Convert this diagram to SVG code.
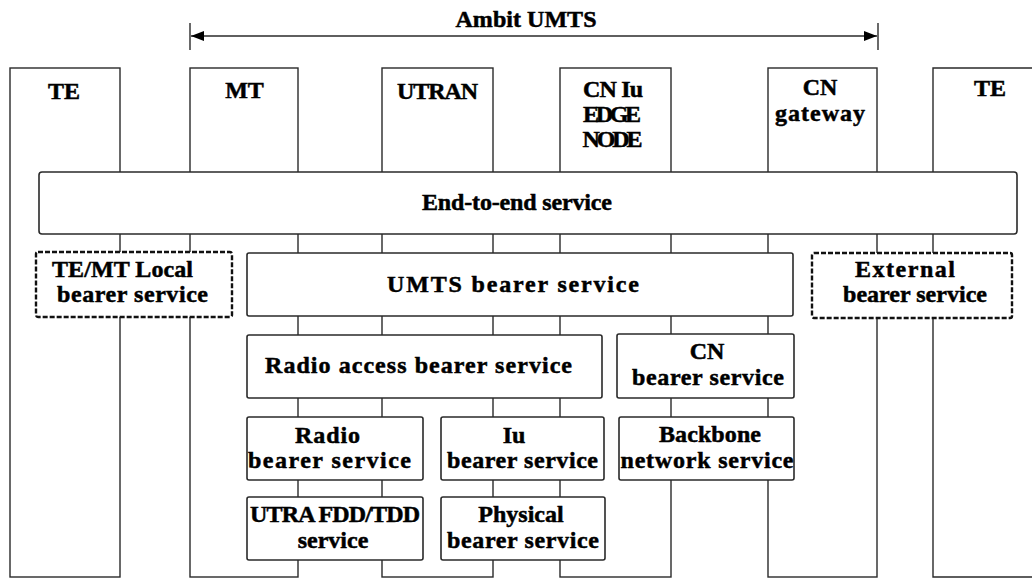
<svg xmlns="http://www.w3.org/2000/svg" width="1032" height="578" viewBox="0 0 1032 578">
<style>
  .col { fill: none; stroke: #2a2a2a; stroke-width: 1.4; }
  .box { fill: #ffffff; stroke: #2a2a2a; stroke-width: 1.6; }
  .dash { fill: #ffffff; stroke: #111111; stroke-width: 2.4; stroke-dasharray: 5 2; }
  .lbl { font-family: "Liberation Serif", "Times New Roman", serif; font-weight: bold; font-size: 24px; fill: #000000; stroke: #000000; stroke-width: 0.5; text-anchor: middle; }
  .conn { stroke: #2a2a2a; stroke-width: 1.4; fill: none; }
  .head { fill: #000000; }
</style>
<rect x="0" y="0" width="1032" height="578" fill="#ffffff"/>

<g id="connectors">
  <line class="conn" x1="191" y1="36" x2="877" y2="36"/>
  <line class="conn" x1="190" y1="23" x2="190" y2="50"/>
  <line class="conn" x1="878" y1="23" x2="878" y2="50"/>
  <polygon class="head" points="191,36 204,31 204,41"/>
  <polygon class="head" points="877,36 864,31 864,41"/>
  <text class="lbl" x="526" y="27" textLength="141" lengthAdjust="spacing">Ambit UMTS</text>
</g>

<g id="col-te-left">
  <rect class="col" x="10" y="68" width="110" height="509"/>
  <text class="lbl" x="64" y="99">TE</text>
</g>
<g id="col-mt">
  <rect class="col" x="190" y="68" width="108" height="509"/>
  <text class="lbl" x="244.5" y="98">MT</text>
</g>
<g id="col-utran">
  <rect class="col" x="382" y="68" width="111" height="509"/>
  <text class="lbl" x="437.5" y="99" textLength="81" lengthAdjust="spacing">UTRAN</text>
</g>
<g id="col-cn-edge">
  <rect class="col" x="560" y="68" width="111" height="509"/>
  <text class="lbl" x="613" y="97" textLength="60" lengthAdjust="spacing">CN Iu</text>
  <text class="lbl" x="612" y="122" textLength="58" lengthAdjust="spacing">EDGE</text>
  <text class="lbl" x="612.5" y="147" textLength="60" lengthAdjust="spacing">NODE</text>
</g>
<g id="col-cn-gateway">
  <rect class="col" x="768" y="68" width="109" height="509"/>
  <text class="lbl" x="820" y="95">CN</text>
  <text class="lbl" x="820" y="121" textLength="90" lengthAdjust="spacing">gateway</text>
</g>
<g id="col-te-right">
  <path class="col" d="M1040,68 L933,68 L933,577 L1040,577"/>
  <text class="lbl" x="990" y="96">TE</text>
</g>

<g id="end-to-end">
  <rect class="box" x="39" y="172" width="978" height="62" rx="3"/>
  <text class="lbl" x="517" y="210" textLength="190" lengthAdjust="spacing">End-to-end service</text>
</g>

<g id="te-mt-local">
  <rect class="dash" x="36" y="252" width="196" height="65" rx="2"/>
  <text class="lbl" x="122.5" y="277" textLength="141" lengthAdjust="spacing">TE/MT  Local</text>
  <text class="lbl" x="132.5" y="302" textLength="151" lengthAdjust="spacing">bearer service</text>
</g>

<g id="umts-bearer">
  <rect class="box" x="247" y="253" width="546" height="63" rx="2"/>
  <text class="lbl" x="513" y="292" textLength="252" lengthAdjust="spacing">UMTS bearer service</text>
</g>

<g id="external-bearer">
  <rect class="dash" x="812" y="253" width="200" height="65" rx="2"/>
  <text class="lbl" x="905" y="277" textLength="100" lengthAdjust="spacing">External</text>
  <text class="lbl" x="915" y="302" textLength="144" lengthAdjust="spacing">bearer service</text>
</g>

<g id="radio-access-bearer">
  <rect class="box" x="247" y="335" width="355" height="63" rx="2"/>
  <text class="lbl" x="418.5" y="373" textLength="307" lengthAdjust="spacing">Radio  access  bearer service</text>
</g>

<g id="cn-bearer">
  <rect class="box" x="617" y="334" width="177" height="64" rx="2"/>
  <text class="lbl" x="707" y="359">CN</text>
  <text class="lbl" x="708" y="385" textLength="152" lengthAdjust="spacing">bearer service</text>
</g>

<g id="radio-bearer">
  <rect class="box" x="247" y="417" width="176" height="63" rx="2"/>
  <text class="lbl" x="327.5" y="443" textLength="65" lengthAdjust="spacing">Radio</text>
  <text class="lbl" x="329.5" y="468" textLength="163" lengthAdjust="spacing">bearer service</text>
</g>

<g id="iu-bearer">
  <rect class="box" x="441" y="417" width="163" height="63" rx="2"/>
  <text class="lbl" x="514" y="443">Iu</text>
  <text class="lbl" x="522.5" y="468" textLength="151" lengthAdjust="spacing">bearer service</text>
</g>

<g id="backbone">
  <rect class="box" x="619" y="417" width="175" height="63" rx="2"/>
  <text class="lbl" x="710" y="442" textLength="102" lengthAdjust="spacing">Backbone</text>
  <text class="lbl" x="707" y="468" textLength="173" lengthAdjust="spacing">network service</text>
</g>

<g id="utra-fdd-tdd">
  <rect class="box" x="247" y="497" width="176" height="63" rx="2"/>
  <text class="lbl" x="335" y="522" textLength="170" lengthAdjust="spacing">UTRA  FDD/TDD</text>
  <text class="lbl" x="333" y="548">service</text>
</g>

<g id="physical-bearer">
  <rect class="box" x="441" y="497" width="164" height="63" rx="2"/>
  <text class="lbl" x="521" y="522">Physical</text>
  <text class="lbl" x="523" y="548" textLength="152" lengthAdjust="spacing">bearer service</text>
</g>
</svg>
